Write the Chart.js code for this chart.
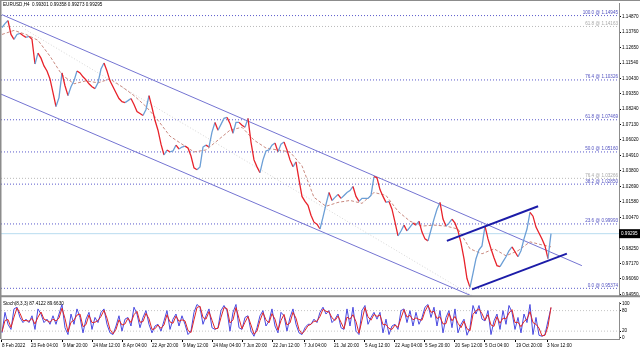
<!DOCTYPE html>
<html>
<head>
<meta charset="utf-8">
<script src="https://cdn.jsdelivr.net/npm/chart.js@4.4.1/dist/chart.umd.min.js"></script>
<style>
html, body { margin: 0; padding: 0; background: #fff; }
#wrap { position: relative; width: 640px; height: 351px; overflow: hidden; }
canvas { position: absolute; left: 0; }
#priceChart { top: 0; }
#stochChart { top: 299px; }
</style>
</head>
<body>
<div id="wrap">
  <canvas id="priceChart" width="640" height="299"></canvas>
  <canvas id="stochChart" width="640" height="52"></canvas>
</div>
<script>
// --- Data (one sample per trading day) ---
const closes = [
  1.1409,1.1437,1.1459,1.1359,1.1324,1.1359,1.1367,1.1352,1.1338,1.1345,
  1.1324,1.1147,1.1225,1.1189,1.1133,1.1097,1.1040,1.0941,1.0842,1.0906,
  1.1083,1.0991,1.0920,1.0984,1.1026,1.1097,1.1083,1.1055,1.1033,1.1005,
  1.0984,1.0970,1.1012,1.1111,1.1154,1.1097,1.1026,1.0984,1.0941,1.0899,
  1.0877,1.0870,1.0884,1.0899,1.0856,1.0806,1.0792,1.0778,1.0821,1.0920,
  1.0835,1.0743,1.0672,1.0572,1.0494,1.0530,1.0516,1.0523,1.0565,1.0537,
  1.0551,1.0558,1.0544,1.0487,1.0402,1.0388,1.0409,1.0551,1.0565,1.0551,
  1.0658,1.0728,1.0672,1.0714,1.0757,1.0764,1.0721,1.0650,1.0728,1.0728,
  1.0707,1.0693,1.0757,1.0587,1.0459,1.0409,1.0367,1.0459,1.0523,1.0530,
  1.0565,1.0580,1.0516,1.0572,1.0587,1.0530,1.0459,1.0409,1.0445,1.0317,
  1.0197,1.0161,1.0133,1.0062,1.0012,0.9998,0.9963,1.0048,1.0140,1.0225,
  1.0168,1.0190,1.0211,1.0183,1.0204,1.0225,1.0239,1.0268,1.0197,1.0161,
  1.0183,1.0183,1.0183,1.0204,1.0339,1.0331,1.0246,1.0197,1.0154,1.0161,
  1.0105,1.0012,0.9913,0.9949,0.9991,0.9949,0.9977,1.0005,0.9991,1.0019,
  0.9941,0.9892,0.9878,0.9956,1.0034,1.0105,1.0154,1.0034,0.9984,1.0005,
  1.0034,1.0005,0.9949,0.9863,0.9750,0.9608,0.9544,0.9644,0.9750,0.9814,
  0.9842,0.9984,0.9892,0.9821,0.9757,0.9700,0.9693,0.9729,0.9764,0.9807,
  0.9835,0.9800,0.9764,0.9807,0.9892,0.9963,1.0083,1.0055,0.9977,0.9934,
  0.9892,0.9842,0.9750,0.9930
];

// moving average (dashed line), every 4th day
const maDays = [0,4,8,12,16,20,24,28,32,36,40,44,48,52,56,60,64,68,72,76,80,84,88,92,96,
  100,104,108,112,116,120,124,128,132,136,140,144,148,152,156,160,164,168,172,176,180,183];
const maValues = [1.1359,1.1388,1.1359,1.1317,1.1203,1.1069,1.1005,1.1026,1.1012,1.1040,
  1.0984,1.0920,1.0842,1.0743,1.0629,1.0572,1.0516,1.0530,1.0601,1.0672,
  1.0693,1.0601,1.0544,1.0530,1.0516,1.0416,1.0190,1.0126,1.0154,1.0168,
  1.0147,1.0225,1.0204,1.0090,1.0019,0.9984,0.9991,0.9984,0.9963,0.9821,
  0.9785,0.9821,0.9771,0.9807,0.9871,0.9849,0.9835];

// stochastic (8,3,3): main (blue) and signal (red)
const stochK = [
  15,75,40,25,85,90,60,45,55,45, 65,25,85,70,45,55,40,65,40,70,
  98,30,10,70,40,85,60,15,55,75, 25,60,45,75,85,40,15,10,35,65,
  20,55,60,35,90,70,30,60,80,40, 15,35,40,20,50,80,25,55,70,35,
  65,40,10,20,75,98,90,40,65,85, 30,25,30,80,95,80,20,75,98,30,
  25,60,65,20,5,30,65,80,35,50, 85,35,15,75,65,20,60,85,40,15,
  10,30,40,40,55,45,75,90,70,80, 45,55,70,30,25,85,35,90,20,10,
  80,95,40,60,75,55,75,15,55,10, 35,40,25,80,85,45,80,35,75,40,
  60,90,98,60,90,35,80,15,60,80, 30,85,15,40,55,8,30,95,70,95,
  55,50,80,10,50,70,25,80,40,95, 75,25,60,15,70,45,98,10,60,8,
  5,10,50,88
];
const stochD = [
  18,51,54,31,61,88,72,51,51,49, 57,41,61,76,55,51,46,55,50,58,
  87,57,18,46,52,67,70,33,39,67, 45,46,51,63,81,58,25,12,25,53,
  38,41,58,45,68,78,46,48,72,56, 25,27,38,28,38,68,47,43,64,49,
  53,50,22,16,53,89,93,60,55,77, 52,27,28,60,89,86,44,53,89,57,
  27,46,63,38,11,20,51,74,53,44, 71,55,23,51,69,38,44,75,58,25,
  12,22,36,40,49,49,63,84,78,76, 59,51,64,46,27,61,55,68,48,14,
  52,89,62,52,69,63,67,39,39,28, 25,38,31,58,83,61,66,53,59,54,
  52,78,95,75,78,57,62,41,42,72, 50,63,43,30,49,27,21,69,80,85,
  71,52,68,38,34,62,43,58,56,73, 83,45,46,33,48,55,77,45,40,29,
  6,8,34,90
];
const stochLevels = [80, 20];
const stochTicks = [100, 80, 20, 0];

// Fibonacci levels
const fibNames = ['100.0', '76.4', '61.8', '50.0', '38.2', '23.6', '0.0'];
const fibPrices = [1.14945, 1.10326, 1.07469, 1.05160, 1.02850, 0.99993, 0.95374];
const fib2Names = ['61.8', '76.4'];
const fib2Prices = [1.14163, 1.03266];

// trend line anchors: [day, price]
const channelTop = [[0, 1.1501], [193.3, 0.9700]];
const channelBottom = [[-0.67, 1.0934], [160, 0.9451]];
const channelMid = [[7.7, 1.1395], [157, 0.9481]];
const riseTop = [[148.3, 0.9878], [178.7, 1.0126]];
const riseBottom = [[156.7, 0.9530], [188.3, 0.9786]];

const lastPrice = 0.99295;
const ohlcText = 'EURUSD,H4  0.99301 0.99358 0.99273 0.99295';
const stochText = 'Stoch(8,3,3) 87.4122 89.6630';

const priceTicks = [1.14870, 1.13760, 1.12650, 1.11540, 1.10430, 1.09350, 1.08240, 1.07130, 1.06020,
  1.04910, 1.03800, 1.02690, 1.01580, 1.00470, 0.98250, 0.97170, 0.96060, 0.94950];
const timeTicks = [0, 9.67, 20.33, 30.33, 40.33, 50, 60.33, 70.33, 80.33, 90.33, 100.67,
  110.67, 121, 131, 141, 151, 161, 171.33, 181.67];
const timeLabels = ['8 Feb 2022', '23 Feb 04:00', '9 Mar 20:00', '24 Mar 12:00', '8 Apr 04:00',
  '22 Apr 20:00', '9 May 12:00', '24 May 04:00', '7 Jun 20:00', '22 Jun 12:00', '7 Jul 04:00',
  '21 Jul 20:00', '5 Aug 12:00', '22 Aug 04:00', '5 Sep 20:00', '20 Sep 12:00', '5 Oct 04:00',
  '19 Oct 20:00', '3 Nov 12:00'];

// --- Chart setup ---
const FONT = 'Liberation Sans';
const FSIZE = 4.6;
const X_MIN = -0.33, X_MAX = 205.67;
const GRAY = '#8c8c8c';

const toPts = arr => arr.map(p => ({ x: p[0], y: p[1] }));
const hLine = y => [{ x: X_MIN - 2, y: y }, { x: X_MAX + 2, y: y }];

function lineSet(data, color, width, dash, order) {
  return {
    type: 'line', data: data, borderColor: color, borderWidth: width,
    borderDash: dash || [], pointRadius: 0, fill: false, tension: 0, order: order
  };
}

const priceDatasets = [];
fibPrices.forEach(p => priceDatasets.push(lineSet(hLine(p), '#5a5acb', 1, [1, 2], 6)));
fib2Prices.forEach(p => priceDatasets.push(lineSet(hLine(p), '#b9b9b9', 1, [1, 2], 6)));
priceDatasets.push(lineSet(hLine(lastPrice), '#b9dcf0', 1, [], 7));
priceDatasets.push(lineSet(toPts(channelTop), '#7474d2', 1, [], 4));
priceDatasets.push(lineSet(toPts(channelBottom), '#7474d2', 1, [], 4));
priceDatasets.push(lineSet(toPts(channelMid), '#d6d6d6', 1, [1, 2], 5));
priceDatasets.push(lineSet(maDays.map((d, i) => ({ x: d, y: maValues[i] })), '#c98a80', 1, [3, 2], 3));
priceDatasets.push({
  type: 'line',
  data: closes.map((c, i) => ({ x: i, y: c })),
  borderWidth: 1.3,
  pointRadius: 0,
  tension: 0,
  order: 2,
  borderColor: '#e8232b',
  segment: {
    borderColor: ctx => ctx.p1.parsed.y >= ctx.p0.parsed.y ? '#6c9fd6' : '#e8232b'
  }
});
priceDatasets.push(lineSet(toPts(riseTop), '#1c1ca8', 2, [], 0));
priceDatasets.push(lineSet(toPts(riseBottom), '#1c1ca8', 2, [], 0));

const priceDecor = {
  id: 'priceDecor',
  afterDraw(chart) {
    const ctx = chart.ctx;
    const area = chart.chartArea;
    const ys = chart.scales.y;
    ctx.save();
    ctx.font = FSIZE + 'px "' + FONT + '"';
    ctx.textAlign = 'right';
    ctx.textBaseline = 'bottom';
    ctx.fillStyle = '#5050c0';
    fibPrices.forEach((p, i) => {
      ctx.fillText(fibNames[i] + ' @ ' + p.toFixed(5), area.right - 1, ys.getPixelForValue(p) - 0.5);
    });
    ctx.fillStyle = '#a8a8a8';
    fib2Prices.forEach((p, i) => {
      ctx.fillText(fib2Names[i] + ' @ ' + p.toFixed(5), area.right - 1, ys.getPixelForValue(p) - 0.5);
    });
    // current price box on the axis
    const yl = ys.getPixelForValue(lastPrice);
    ctx.fillStyle = '#000';
    ctx.fillRect(area.right, yl - 4.5, chart.width - area.right, 9);
    ctx.fillStyle = '#fff';
    ctx.textAlign = 'left';
    ctx.textBaseline = 'middle';
    ctx.fillText(lastPrice.toFixed(5), area.right + 2, yl);
    // symbol line
    ctx.fillStyle = '#000';
    ctx.fillText(ohlcText, 3, 5);
    // frame
    ctx.fillStyle = GRAY;
    ctx.fillRect(0, 0, chart.width, 1);
    ctx.fillRect(0, 0, 1.5, chart.height);
    ctx.fillRect(0, area.bottom, chart.width, 2);
    ctx.restore();
  }
};

new Chart(document.getElementById('priceChart'), {
  type: 'line',
  data: { datasets: priceDatasets },
  options: {
    responsive: false,
    animation: false,
    events: [],
    layout: { padding: { left: 1, top: 2, right: 0, bottom: 2 } },
    plugins: { legend: { display: false }, tooltip: { enabled: false } },
    scales: {
      x: { type: 'linear', display: false, min: X_MIN, max: X_MAX },
      y: {
        position: 'right',
        min: 0.94878,
        max: 1.15792,
        afterBuildTicks: s => { s.ticks = priceTicks.map(v => ({ value: v })); },
        afterFit: s => { s.width = 21; },
        ticks: {
          autoSkip: false,
          font: { family: FONT, size: FSIZE },
          color: '#000',
          padding: 1,
          callback: v => v.toFixed(5)
        },
        grid: { drawOnChartArea: false, drawTicks: true, tickLength: 2, color: '#000' },
        border: { display: true, color: GRAY, width: 1 }
      }
    }
  },
  plugins: [priceDecor]
});

// --- Stochastic panel ---
const stochDatasets = [];
stochLevels.forEach(v => stochDatasets.push(lineSet(hLine(v), '#c4c4c4', 1, [1, 2], 5)));
stochDatasets.push(lineSet(stochK.map((v, i) => ({ x: i, y: v })), '#4a4ae0', 1, [], 2));
stochDatasets.push(lineSet(stochD.map((v, i) => ({ x: i, y: v })), '#e02828', 1, [], 1));

const stochDecor = {
  id: 'stochDecor',
  afterDraw(chart) {
    const ctx = chart.ctx;
    const area = chart.chartArea;
    ctx.save();
    ctx.font = FSIZE + 'px "' + FONT + '"';
    ctx.fillStyle = '#000';
    ctx.textAlign = 'left';
    ctx.textBaseline = 'middle';
    ctx.fillText(stochText, 3, 5);
    ctx.fillStyle = GRAY;
    ctx.fillRect(0, 0, 1.5, area.bottom);
    ctx.restore();
  }
};

new Chart(document.getElementById('stochChart'), {
  type: 'line',
  data: { datasets: stochDatasets },
  options: {
    responsive: false,
    animation: false,
    events: [],
    layout: { padding: { left: 1, top: 1, right: 0, bottom: 0 } },
    plugins: { legend: { display: false }, tooltip: { enabled: false } },
    scales: {
      x: {
        type: 'linear',
        min: X_MIN,
        max: X_MAX,
        afterBuildTicks: s => { s.ticks = timeTicks.map(v => ({ value: v })); },
        afterFit: s => { s.height = 12; },
        ticks: {
          autoSkip: false,
          maxRotation: 0,
          align: 'start',
          font: { family: FONT, size: FSIZE },
          color: '#000',
          padding: 1,
          callback: (v, i) => timeLabels[i]
        },
        grid: { drawOnChartArea: false, drawTicks: true, tickLength: 3, color: '#000' },
        border: { display: true, color: GRAY, width: 1 }
      },
      y: {
        position: 'right',
        min: -3,
        max: 103,
        afterBuildTicks: s => { s.ticks = stochTicks.map(v => ({ value: v })); },
        afterFit: s => { s.width = 21; },
        ticks: {
          autoSkip: false,
          font: { family: FONT, size: FSIZE },
          color: '#000',
          padding: 1,
          callback: v => String(v)
        },
        grid: { drawOnChartArea: false, drawTicks: true, tickLength: 2, color: '#000' },
        border: { display: true, color: GRAY, width: 1 }
      }
    }
  },
  plugins: [stochDecor]
});
</script>
</body>
</html>
